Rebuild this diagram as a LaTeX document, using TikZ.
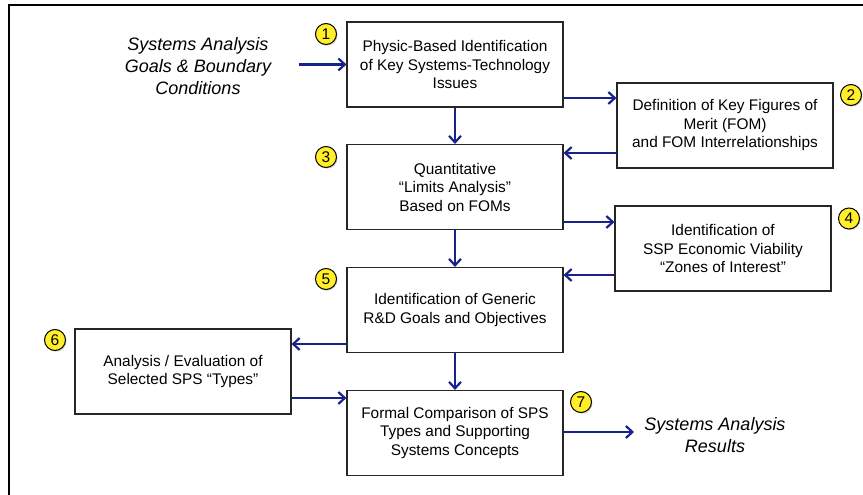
\documentclass[tikz,border=0pt]{standalone}
\usepackage{fontspec}
\setmainfont{Liberation Sans}
\usepackage{tikz}
\usetikzlibrary{positioning,arrows.meta,shadows}
\definecolor{flowblue}{RGB}{24,34,140}
\definecolor{tagyellow}{RGB}{255,238,40}
\tikzset{
  stepbox/.style={draw=black!85,line width=1.1pt,fill=white,minimum width=216pt,minimum height=85pt,align=center,inner sep=2pt,font=\fontsize{15.4}{18.5}\selectfont},
  flow/.style={draw=flowblue,line width=2.8pt,-{Straight Barb[length=6.5pt,width=12pt,line width=2.2pt]}},
  tag/.style={circle,draw=black,line width=1pt,fill=tagyellow,minimum size=21pt,inner sep=0pt,font=\fontsize{15.5}{15.5}\selectfont,drop shadow={opacity=0.35,shadow xshift=1pt,shadow yshift=-1.2pt}},
  note/.style={align=center,font=\fontsize{18}{22}\selectfont\itshape},
  every picture/.style={x=1pt,y=-1pt}
}
\begin{document}
\begin{tikzpicture}
  \useasboundingbox (0,0) rectangle (863,495);
  \draw[line width=2.2pt] (9,495) -- (9,5) -- (863,5);
  % boxes
  \node[stepbox] (b1) at (455,64.5) {Physic-Based Identification\\of Key Systems-Technology\\Issues};
  \node[stepbox] (b2) at (725,125.5) {Definition of Key Figures of\\Merit (FOM)\\and FOM Interrelationships};
  \node[stepbox] (b3) at (455,187) {Quantitative\\``Limits Analysis''\\Based on FOMs};
  \node[stepbox] (b4) at (723,248.5) {Identification of\\SSP Economic Viability\\``Zones of Interest''};
  \node[stepbox] (b5) at (455,310) {Identification of Generic\\R\&D Goals and Objectives};
  \node[stepbox] (b6) at (183,371.5) {Analysis / Evaluation of\\Selected SPS ``Types''};
  \node[stepbox] (b7) at (455,433) {Formal Comparison of SPS\\Types and Supporting\\Systems Concepts};
  % numbers
  \node[tag] (t1) at (326,34) {1}; \node[tag] (t2) at (851,95) {2}; \node[tag] (t3) at (326,157) {3};
  \node[tag] (t4) at (849,218.5) {4}; \node[tag] (t5) at (326,279) {5}; \node[tag] (t6) at (55,340) {6};
  \node[tag] (t7) at (581,402) {7};
  % inputs and outputs
  \node[note] (goals) at (198,66) {Systems Analysis\\Goals \& Boundary\\Conditions};
  \node[note] (res) at (715,435) {Systems Analysis\\Results};
  \coordinate (gin) at (299,64.5); \coordinate (rout) at (634,432);
  % arrows
  \draw[flow] (gin) -- (b1.west |- gin);
  \draw[flow] (b1) -- (b3); \draw[flow] (b3) -- (b5); \draw[flow] (b5) -- (b7);
  \draw[flow] (b1.east |- 0,98) -- (b2.west |- 0,98); \draw[flow] (b2.west |- 0,153) -- (b3.east |- 0,153);
  \draw[flow] (b3.east |- 0,222) -- (b4.west |- 0,222); \draw[flow] (b4.west |- 0,275) -- (b5.east |- 0,275);
  \draw[flow] (b5.west |- 0,344) -- (b6.east |- 0,344); \draw[flow] (b6.east |- 0,398) -- (b7.west |- 0,398);
  \draw[flow] (b7.east |- rout) -- (rout);
\end{tikzpicture}
\end{document}
